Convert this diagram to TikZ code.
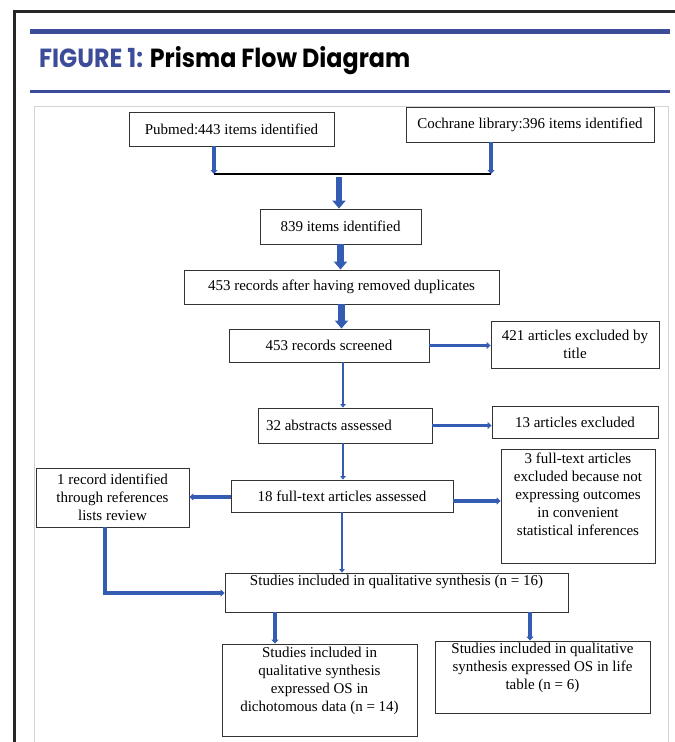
\documentclass[tikz,border=0pt]{standalone}
\usepackage{fontspec}
\usepackage{graphicx}
\setmainfont{Liberation Serif}
\newfontfamily\titlefont{Poppins}
\usetikzlibrary{arrows.meta}
\definecolor{titleblue}{RGB}{60,76,152}
\definecolor{arrowblue}{RGB}{52,92,178}
\definecolor{framegrey}{RGB}{212,212,212}
\newcommand\bxc[3]{\parbox[c][#2pt][c]{#1pt}{\centering #3}}
\newcommand\bxt[4]{\parbox[c][#2pt][t]{#1pt}{\vspace*{#3pt}\centering\strut #4}}
\begin{document}
\begin{tikzpicture}[x=1pt,y=-1pt,
  box/.style={draw=black!80,line width=0.9pt,inner sep=0pt,font=\fontsize{15}{18}\selectfont},
  conn/.style={draw=arrowblue,line width=3.2pt,-{Triangle[width=7pt,length=4pt]}},
  thinconn/.style={draw=arrowblue,line width=2.2pt,-{Triangle[width=5.5pt,length=3.5pt]}},
  bigconn/.style={draw=arrowblue,line width=6.5pt,-{Triangle[width=13pt,length=8pt]}}]
\useasboundingbox (0,0) rectangle (675,742);
\fill[white] (0,0) rectangle (675,742);
% frames
\draw[black!85,line width=3pt] (14,742) -- (14,11) -- (675,11);
\draw[titleblue,line width=5pt] (30,31) -- (670,31);
\draw[titleblue,line width=2.5pt] (30,91.5) -- (670,91.5);
\draw[framegrey,line width=1pt] (34,742) -- (34,106) -- (668,106) -- (668,742);
\node[anchor=base west,inner sep=0pt] (title) at (39,67)
  {\resizebox{371pt}{21pt}{\titlefont\bfseries\color{titleblue}FIGURE 1: \color{black}Prisma Flow Diagram}};
% boxes
\node[box] (pub) at (231.5,129) {\bxc{205}{34}{Pubmed:443 items identified}};
\node[box] (coch) at (530,124.5) {\bxc{248}{35}{Cochrane library:396 items identified}};
\node[box] (n839) at (340.5,226.5) {\bxc{161}{35}{839 items identified}};
\node[box] (dup) at (341.5,287) {\bxc{315}{34}{453 records after having removed duplicates}};
\node[box] (scr) at (329,345.5) {\bxc{200}{33}{453 records screened}};
\node[box] (ex421) at (575,344.5) {\bxc{168}{47}{421 articles excluded by\\title}};
\node[box] (abs) at (345,425.5) {\parbox[c][35pt][c]{174pt}{\hspace*{8pt}32 abstracts assessed}};
\node[box] (ex13) at (575,422) {\bxc{166}{32}{13 articles excluded}};
\node[box] (ft18) at (342,496) {\bxc{222}{32}{18 full-text articles assessed}};
\node[box] (rec1) at (112.5,497.5) {\bxc{153}{59}{1 record identified\\through references\\lists review}};
\node[box] (ex3) at (578,506) {\bxt{154}{114}{2}{3 full-text articles\\excluded because not\\expressing outcomes\\in convenient\\statistical inferences}};
\node[box] (st16) at (396.5,592.5) {\bxt{343}{39}{0}{Studies included in qualitative synthesis (n = 16)}};
\node[box] (st14) at (319.5,690) {\bxt{195}{92}{0.5}{Studies included in\\qualitative synthesis\\expressed OS in\\dichotomous data (n = 14)}};
\node[box] (st6) at (542.5,677) {\bxt{215}{72}{0}{Studies included in qualitative\\synthesis expressed OS in life\\table (n = 6)}};
% connectors
\coordinate (jl) at (214,174);
\coordinate (jr) at (491,174);
\coordinate (bt) at (339,177);
\draw[conn] (pub.south -| jl) -- (jl);
\draw[conn] (coch.south -| jr) -- (jr);
\draw[black,line width=1.6pt] (jl) -- (jr);
\draw[bigconn] (bt) -- (bt |- n839.north);
\draw[bigconn] (n839.south) -- (n839.south |- dup.north);
\draw[bigconn] (dup.south) -- (dup.south |- scr.north);
\draw[conn] (scr.east) -- (scr.east -| ex421.west);
\draw[thinconn] ([xshift=14pt]scr.south) -- ([xshift=14pt]scr.south |- abs.north);
\draw[conn] (abs.east) -- (abs.east -| ex13.west);
\draw[thinconn] ([xshift=-2pt]abs.south) -- ([xshift=-2pt]abs.south |- ft18.north);
\draw[conn] ([yshift=-1pt]ft18.west) -- ([yshift=-1pt]ft18.west -| rec1.east);
\draw[conn] ([yshift=-5pt]ft18.east) -- ([yshift=-5pt]ft18.east -| ex3.west);
\draw[thinconn] (ft18.south) -- (ft18.south |- st16.north);
\draw[conn] ([xshift=-7.5pt]rec1.south) |- ([yshift=-0.5pt]st16.west);
\draw[conn] ([xshift=-121.5pt]st16.south) -- ([xshift=-121.5pt]st16.south |- st14.north);
\draw[conn] ([xshift=133.5pt]st16.south) -- ([xshift=133.5pt]st16.south |- st6.north);
\end{tikzpicture}
\end{document}
